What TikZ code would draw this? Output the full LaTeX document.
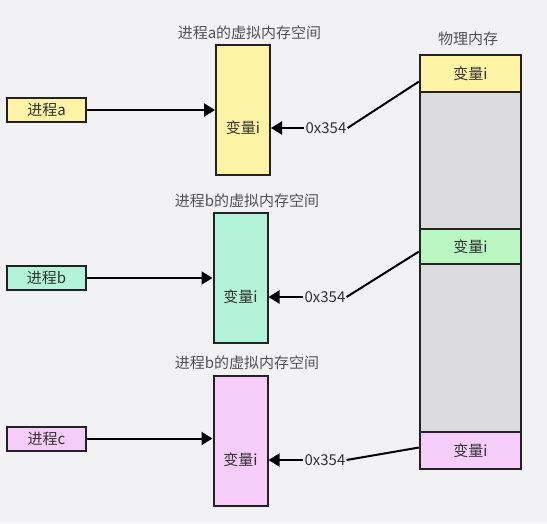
\documentclass[tikz,border=0pt]{standalone}
\usepackage{fontspec}
\setmainfont{Noto Sans CJK SC}
\usetikzlibrary{arrows.meta,calc}
\definecolor{bgc}{HTML}{F2F2F4}
\definecolor{yel}{HTML}{FFF4A6}
\definecolor{mint}{HTML}{B3F2DB}
\definecolor{grn}{HTML}{B9F6C2}
\definecolor{pnk}{HTML}{F6CCF9}
\definecolor{gry}{HTML}{DCDCDF}
\definecolor{edge}{HTML}{222222}
\definecolor{txt}{HTML}{333333}
\begin{document}
\begin{tikzpicture}[x=1pt,y=-1pt,
  every node/.style={font=\fontsize{15}{17}\selectfont, text=txt},
  box/.style={draw=edge, line width=2pt, inner sep=0pt, rectangle},
  proc/.style={box, minimum width=79pt, minimum height=24pt},
  virt/.style={box, minimum width=54pt, minimum height=130pt},
  cell/.style={box, minimum width=101pt, minimum height=37pt},
  ttl/.style={text=txt!85!white},
  lbl/.style={inner sep=1pt},
  conn/.style={line width=2pt, draw=black},
  arr/.style={conn, -{Triangle[length=11pt,width=13pt]}}]
\fill[bgc] (0,0) rectangle (547,523);
\useasboundingbox (0,0) rectangle (547,523);

% physical memory column
\node[box, fill=gry, minimum width=101pt, minimum height=414pt] (pm) at (470.5,262) {};
\node[cell, fill=yel] (ca) at (470.5,73.5) {变量i};
\node[cell, fill=grn, minimum height=35pt] (cb) at (470.5,246.5) {变量i};
\node[cell, fill=pnk] (cc) at (470.5,450.5) {变量i};
\node[ttl] (tp) at (468,39) {物理内存};

% virtual spaces
\node[virt, fill=yel] (va) at (243,110) {};
\node[virt, fill=mint] (vb) at (240.5,278) {};
\node[virt, fill=pnk] (vc) at (240.5,441) {};
\node (vat) at (243,128) {变量i};
\node (vbt) at (240.5,297) {变量i};
\node (vct) at (240.5,460) {变量i};
\node[ttl] (ta) at (249.5,33) {进程a的虚拟内存空间};
\node[ttl] (tb) at (247,201) {进程b的虚拟内存空间};
\node[ttl] (tc) at (247,363) {进程b的虚拟内存空间};

% processes
\node[proc, fill=yel] (pa) at (46.5,110) {进程a};
\node[proc, fill=mint] (pb) at (46.5,278) {进程b};
\node[proc, fill=pnk] (pc) at (46.5,438.5) {进程c};

% labels
\node[lbl] (la) at (326,128) {0x354};
\node[lbl] (lb) at (325,297) {0x354};
\node[lbl] (lc) at (325,460) {0x354};

% connectors
\draw[arr] (pa.east) -- (pa.east -| va.west);
\draw[arr] (pb.east) -- (pb.east -| vb.west);
\draw[arr] (pc.east) -- (pc.east -| vc.west);
\draw[arr] (la.west) -- (la.west -| va.east);
\draw[arr] (lb.west) -- (lb.west -| vb.east);
\draw[arr] (lc.west) -- (lc.west -| vc.east);
\draw[conn] (la.east) -- ([yshift=-8pt]ca.west);
\draw[conn] (lb.east) -- ([yshift=-5pt]cb.west);
\draw[conn] (lc.east) -- ([yshift=3pt]cc.west);
\end{tikzpicture}
\end{document}
